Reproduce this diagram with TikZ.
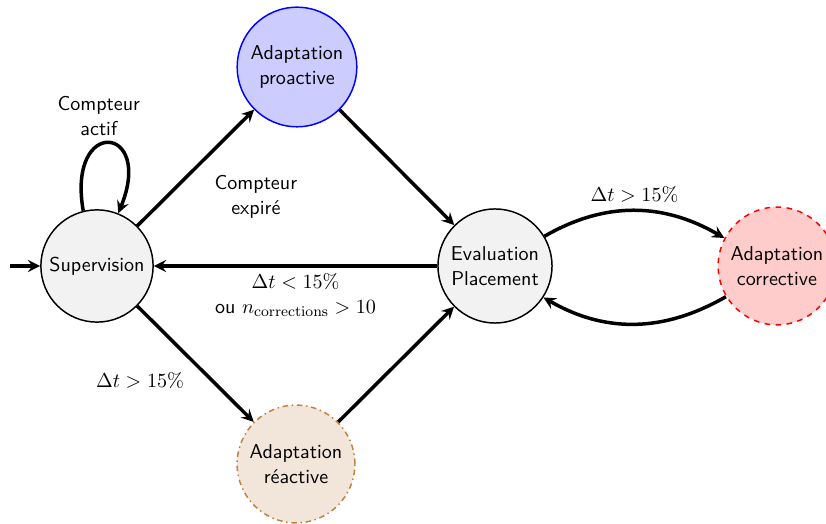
\documentclass[tikz,border=0pt]{standalone}
\usetikzlibrary{arrows.meta}
\tikzset{
  etat/.style={circle, draw, thick, fill=gray!10, minimum size=62pt, inner sep=0pt, align=center},
  proactif/.style={etat, draw=blue, fill=blue!20, minimum size=65pt},
  reactif/.style={etat, draw=brown, fill=brown!20, dash dot, minimum size=64pt},
  correctif/.style={etat, draw=red, fill=red!20, dashed, minimum size=64pt},
  lien/.style={->, line width=1.9pt},
}
\begin{document}
\begin{tikzpicture}[x = .5435pt, y = .5435pt, >=stealth, every node/.style={font=\sffamily\fontsize{10.9pt}{13.5pt}\selectfont}]
\useasboundingbox (0,0) rectangle (826,524);
\node[etat, minimum size=61pt] (sup) at (97,258) {Supervision};
\node[proactif] (pro) at (297,457) {Adaptation\\proactive};
\node[etat] (eval) at (495,258) {Evaluation\\Placement};
\node[correctif] (corr) at (777,258) {Adaptation\\corrective};
\node[reactif] (rea) at (296,60) {Adaptation\\r\'eactive};
\coordinate (init) at (10,258);
\draw[lien] (init) -- (sup);
\draw[lien] (sup.104) to[out=100,in=68,looseness=7] node[above, xshift=-5pt, align=center] {Compteur\\actif} (sup.68);
\draw[lien] (sup) -- node[midway, below right, xshift=6pt, align=center] {Compteur\\expir\'e} (pro);
\draw[lien] (pro) -- (eval);
\draw[lien] (eval) -- node[midway, below, align=center] {$\Delta t < 15\%$\\ou $n_{\mathrm{corrections}} > 10$} (sup);
\draw[lien] (sup) -- node[midway, below left, xshift=-2pt] {$\Delta t > 15\%$} (rea);
\draw[lien] (rea) -- (eval);
\draw[lien] (eval.31) to[out=30,in=150] node[midway, above] {$\Delta t > 15\%$} (corr.152);
\draw[lien] (corr.211) to[out=210,in=-30] (eval.-33);
\end{tikzpicture}
\end{document}
